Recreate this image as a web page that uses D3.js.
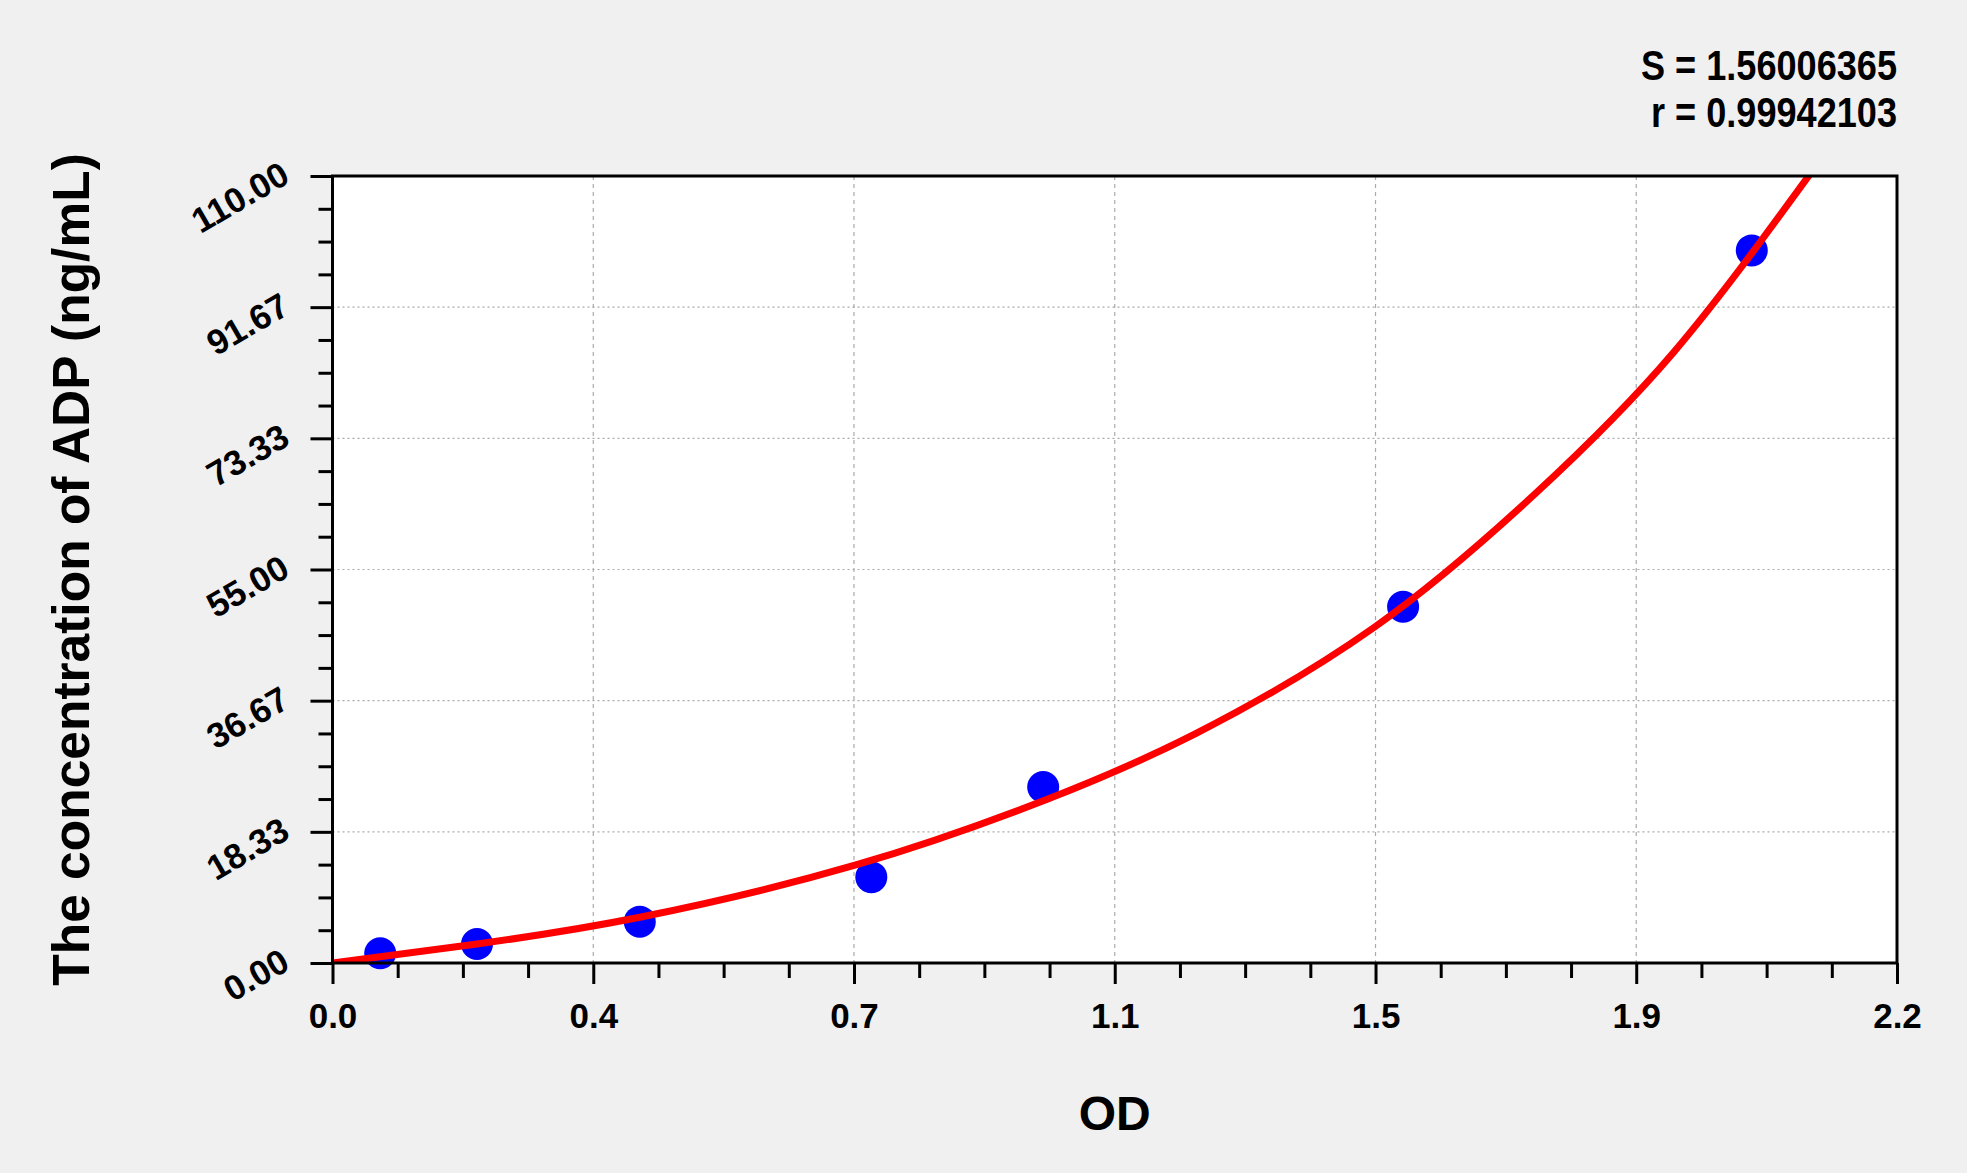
<!DOCTYPE html>
<html>
<head>
<meta charset="utf-8">
<script src="https://cdn.jsdelivr.net/npm/d3@7"></script>
<style>
  html, body { margin: 0; padding: 0; background: #f0f0f0; }
  text { font-family: 'Liberation Sans', Arial, sans-serif; font-weight: bold; fill: #000; }
</style>
</head>
<body>
<svg id="chart"></svg>
<script>
// standard points (OD, concentration)
const od = [0.068, 0.206, 0.438, 0.768, 1.013, 1.526, 2.023]
const conc = [1.36, 2.66, 5.78, 12.0, 24.6, 49.8, 99.6]

// fitted curve, sampled along the red line
const curveOd = [0, 0.206, 0.438, 0.746, 1.016, 1.231, 1.486, 1.715, 1.912, 2.107]
const curveConc = [0, 2.66, 6.39, 13.7, 22.78, 32.1, 47.0, 65.65, 85.4, 110.4]

// axis ticks
const xTicks = [0, 0.3717, 0.7433, 1.115, 1.4867, 1.8583, 2.23]
const yTicks = [0, 18.333, 36.667, 55, 73.333, 91.667, 110]

const stats = ['S = 1.56006365', 'r = 0.99942103']
const xTitle = 'OD'
const yTitle = 'The concentration of ADP (ng/mL)'

const width = 1967
const height = 1173
const margin = { top: 176, right: 70, bottom: 210, left: 332.5 }
const innerW = width - margin.left - margin.right
const innerH = height - margin.top - margin.bottom

const svg = d3.select('#chart')
  .attr('width', width)
  .attr('height', height)

svg.append('rect')
  .attr('width', width)
  .attr('height', height)
  .attr('fill', '#f0f0f0')

const g = svg.append('g')
  .attr('transform', `translate(${margin.left},${margin.top})`)

const x = d3.scaleLinear().domain([0, xTicks[xTicks.length - 1]]).range([0, innerW])
const y = d3.scaleLinear().domain([0, yTicks[yTicks.length - 1]]).range([innerH, 0])

// minor ticks: 4 steps between each pair of major ticks
const minor = ticks => d3.merge(d3.pairs(ticks).map(([a, b]) => [1, 2, 3].map(k => a + (b - a) * k / 4)))

g.append('rect')
  .attr('width', innerW)
  .attr('height', innerH)
  .attr('fill', '#fff')

// grid
g.append('g')
  .selectAll('line')
  .data(xTicks.slice(1, -1))
  .join('line')
  .attr('x1', d => x(d))
  .attr('x2', d => x(d))
  .attr('y1', 0)
  .attr('y2', innerH)
  .attr('stroke', '#aaa')
  .attr('stroke-width', 1.2)
  .attr('stroke-dasharray', '4,4')

g.append('g')
  .selectAll('line')
  .data(yTicks.slice(1, -1))
  .join('line')
  .attr('x1', 0)
  .attr('x2', innerW)
  .attr('y1', d => y(d))
  .attr('y2', d => y(d))
  .attr('stroke', '#aaa')
  .attr('stroke-width', 1.2)
  .attr('stroke-dasharray', '2,3')

// minor ticks
g.append('g')
  .attr('transform', `translate(0,${innerH})`)
  .call(d3.axisBottom(x).tickValues(minor(xTicks)).tickSize(15).tickFormat(''))
  .call(a => a.select('.domain').remove())
  .call(a => a.selectAll('line').attr('stroke-width', 3))

g.append('g')
  .call(d3.axisLeft(y).tickValues(minor(yTicks)).tickSize(14).tickFormat(''))
  .call(a => a.select('.domain').remove())
  .call(a => a.selectAll('line').attr('stroke-width', 3))

// major ticks + labels
g.append('g')
  .attr('transform', `translate(0,${innerH})`)
  .call(d3.axisBottom(x).tickValues(xTicks).tickSize(21).tickFormat(d3.format('.1f')))
  .call(a => a.select('.domain').remove())
  .call(a => a.selectAll('line').attr('stroke-width', 3))
  .call(a => a.selectAll('text')
    .attr('y', 65)
    .attr('dy', null)
    .attr('font-size', 35)
    .attr('font-family', null))

g.append('g')
  .call(d3.axisLeft(y).tickValues(yTicks).tickSize(22).tickFormat(d3.format('.2f')))
  .call(a => a.select('.domain').remove())
  .call(a => a.selectAll('line').attr('stroke-width', 3))
  .call(a => a.selectAll('text')
    .attr('x', null)
    .attr('dy', null)
    .attr('text-anchor', 'end')
    .attr('transform', 'translate(-41,5) rotate(-30)')
    .attr('font-size', 35)
    .attr('font-family', null))

g.append('clipPath')
  .attr('id', 'plot-clip')
  .append('rect')
  .attr('width', innerW)
  .attr('height', innerH)

// points first, curve drawn over them
g.append('g')
  .selectAll('circle')
  .data(od.map((d, i) => [d, conc[i]]))
  .join('circle')
  .attr('cx', d => x(d[0]))
  .attr('cy', d => y(d[1]))
  .attr('r', 16)
  .attr('fill', '#0000ff')

const line = d3.line()
  .x(d => x(d[0]))
  .y(d => y(d[1]))
  .curve(d3.curveNatural)

g.append('path')
  .datum(curveOd.map((d, i) => [d, curveConc[i]]))
  .attr('clip-path', 'url(#plot-clip)')
  .attr('d', line)
  .attr('fill', 'none')
  .attr('stroke', '#ff0000')
  .attr('stroke-width', 7)

// frame
g.append('rect')
  .attr('width', innerW)
  .attr('height', innerH)
  .attr('fill', 'none')
  .attr('stroke', '#000')
  .attr('stroke-width', 3)

// titles
svg.append('text')
  .attr('x', margin.left + innerW / 2)
  .attr('y', 1130)
  .attr('text-anchor', 'middle')
  .attr('font-size', 48)
  .text(xTitle)

svg.append('text')
  .attr('transform', `translate(89,${margin.top + innerH / 2}) rotate(-90)`)
  .attr('text-anchor', 'middle')
  .attr('font-size', 51.5)
  .text(yTitle)

// fit stats, top right (the font there is a bit condensed)
svg.append('g')
  .selectAll('text')
  .data(stats)
  .join('text')
  .attr('transform', (d, i) => `translate(${margin.left + innerW},${80 + i * 46.5}) scale(0.86,1)`)
  .attr('text-anchor', 'end')
  .attr('font-size', 42)
  .text(d => d)
</script>
</body>
</html>
